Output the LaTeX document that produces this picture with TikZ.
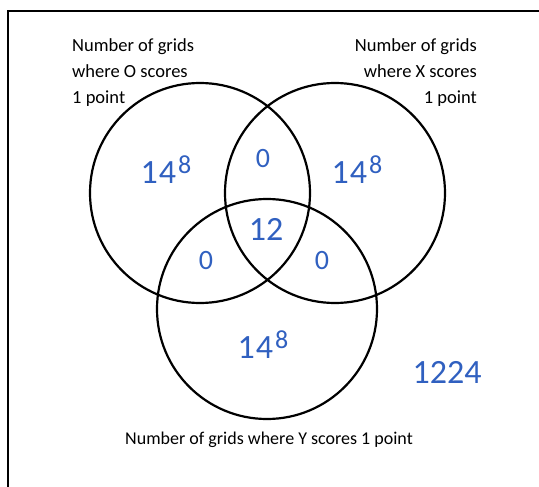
\documentclass[tikz,border=0pt]{standalone}
\usepackage{fontspec}
\setmainfont{Carlito}
\definecolor{hand}{RGB}{48,96,192}
\begin{document}
\begin{tikzpicture}[x=1pt,y=-1pt,
  setc/.style={circle,draw=black,line width=2.2pt,minimum size=220pt,inner sep=0pt},
  lbl/.style={inner sep=0pt,font=\fontsize{18.5}{22}\selectfont},
  num/.style={inner sep=0pt,text=hand,font=\fontsize{34}{34}\selectfont},
  zero/.style={inner sep=0pt,text=hand,font=\fontsize{28}{28}\selectfont}]
\useasboundingbox (0,0) rectangle (539,487);
% frame (cut by the picture's edges)
\coordinate (fa) at (8,600);
\coordinate (fb) at (8,11);
\coordinate (fc) at (600,11);
\draw[line width=2.6pt] (fa) -- (fb) -- (fc);
% circles
\node[setc] (O) at (200,193) {};
\node[setc] (X) at (335,193) {};
\node[setc] (Y) at (267,309) {};
% labels
\node[lbl,anchor=base west] (o1) at (72,52) {Number of grids};
\node[lbl,anchor=base west] (o2) at (72,78) {where O scores};
\node[lbl,anchor=base west] (o3) at (72,104) {1 point};
\node[lbl,anchor=base east] (x1) at (477,52) {Number of grids};
\node[lbl,anchor=base east] (x2) at (477,78) {where X scores};
\node[lbl,anchor=base east] (x3) at (477,104) {1 point};
\node[lbl,anchor=base,font=\fontsize{18}{22}\selectfont] (y1) at (269,444) {Number of grids where Y scores 1 point};
% numbers
\newcommand{\hfe}{1\kern1pt4\kern2pt\raisebox{0.3em}{\fontsize{26}{26}\selectfont 8}}
\node[num] (nO) at (166,170) {\hfe};
\node[num] (nX) at (357,170) {\hfe};
\node[num] (nY) at (263,345) {\hfe};
\node[num] (nC) at (266,229) {12};
\node[zero] (nOX) at (263,159) {0};
\node[zero] (nOY) at (206,261) {0};
\node[zero] (nXY) at (322,261) {0};
\node[num] (nU) at (447,372) {1224};
\end{tikzpicture}
\end{document}
